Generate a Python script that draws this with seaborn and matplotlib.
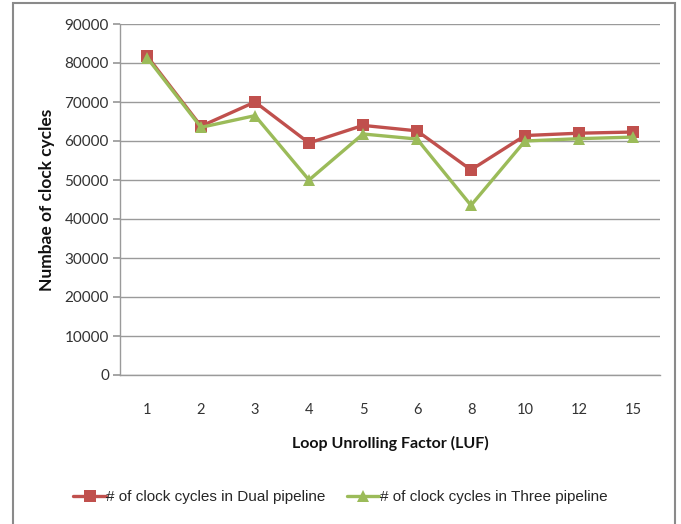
import numpy as np
import pandas as pd
import matplotlib
matplotlib.use("Agg")
import matplotlib.pyplot as plt
from matplotlib.patches import Rectangle
from matplotlib.lines import Line2D
import seaborn as sns

# data
luf = ["1", "2", "3", "4", "5", "6", "8", "10", "12", "15"]
dual = [81800, 63800, 70000, 59500, 64000, 62600, 52600, 61400, 62000, 62300]
three = [81400, 63500, 66500, 50000, 61800, 60500, 43500, 60000, 60600, 61000]

dual_name = "# of clock cycles in Dual pipeline"
three_name = "# of clock cycles in Three pipeline"

df = pd.DataFrame({
    "LUF": luf * 2,
    "cycles": dual + three,
    "series": [dual_name] * len(luf) + [three_name] * len(luf),
})

sns.set_theme(style="white")
plt.rcParams['font.family'] = ['Lato', 'DejaVu Sans']

fig = plt.figure(figsize=(6.81, 5.24), dpi=100)
ax = fig.add_axes([120 / 681, 149 / 524, 540 / 681, 351 / 524])

palette = {dual_name: "#C0504D", three_name: "#9BBB59"}
sns.lineplot(data=df, x="LUF", y="cycles", hue="series", style="series",
             palette=palette, markers={dual_name: "s", three_name: "^"},
             dashes=False, linewidth=2.4, markersize=9, markeredgewidth=0,
             sort=False, ax=ax, legend=False)

ax.set_xlim(-0.5, len(luf) - 0.5)
ax.set_ylim(0, 90000)
ax.set_yticks(np.arange(0, 90001, 10000))
ax.yaxis.grid(True, color="#9a9a9a", linewidth=1)
ax.xaxis.grid(False)
for s in ["top", "right"]:
    ax.spines[s].set_visible(False)
ax.spines["left"].set_color("#9a9a9a")
ax.spines["bottom"].set_color("#9a9a9a")
ax.spines["left"].set_linewidth(1)
ax.spines["bottom"].set_linewidth(1)
ax.tick_params(axis="y", left=True, length=5, color="#9a9a9a", labelsize=11,
               labelcolor="#333333", pad=3)
ax.tick_params(axis="x", bottom=False, labelsize=10.5, labelcolor="#333333", pad=14)

ax.set_xlabel("Loop Unrolling Factor (LUF)", fontsize=11.5, fontweight="bold",
              color="#111111", labelpad=14)
ax.set_ylabel("Numbae of clock cycles", fontsize=12.5, fontweight="bold",
              color="#111111", labelpad=7)

# legend at the bottom
handles = [
    Line2D([], [], color="#C0504D", marker="s", markersize=9, linewidth=2.4, markeredgewidth=0),
    Line2D([], [], color="#9BBB59", marker="^", markersize=9, linewidth=2.4, markeredgewidth=0),
]
fig.legend(handles, [dual_name, three_name], loc="center", ncol=2,
           bbox_to_anchor=(0.5, 1 - 497 / 524), frameon=False,
           prop={"family": ["Liberation Sans", "DejaVu Sans"], "size": 11},
           handlelength=2.1, handletextpad=0.05, columnspacing=1.4)

fig.patches.append(Rectangle((13 / 681, -0.02), 662 / 681, 1.02 - 3 / 524,
                             transform=fig.transFigure, fill=False,
                             edgecolor="#8a8a8a", linewidth=1.5))

fig.savefig("out.png", dpi=100)
